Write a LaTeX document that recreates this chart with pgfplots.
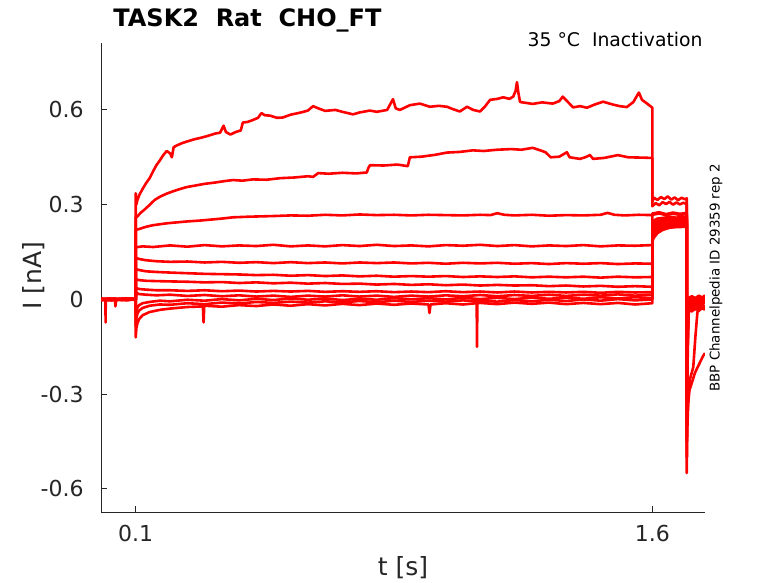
\documentclass[border=0pt]{standalone}
\usepackage{fontspec}
\setmainfont{DejaVu Sans}
\usepackage{pgfplots}
\pgfplotsset{compat=1.18}
\definecolor{axcol}{RGB}{38,38,38}
\definecolor{txtcol}{RGB}{38,38,38}
\definecolor{tr}{RGB}{255,0,0}
\tikzset{trace/.style={draw=tr, line width=1.3pt, line join=round, mark=none}}
\begin{document}
\begin{tikzpicture}
\begin{axis}[
 at={(0,0)}, anchor=south west,
 scale only axis, width=301.85pt, height=234.65pt,
 xmin=0, xmax=1.753, ymin=-0.674, ymax=0.812,
 axis x line*=bottom, axis y line*=left,
 axis line style={draw=axcol, line width=0.5pt, -},
 xtick={0.1,1.6}, ytick={-0.6,-0.3,0,0.3,0.6},
 xticklabels={0.1,1.6}, yticklabels={-0.6,-0.3,0,0.3,0.6},
 tick align=inside, major tick length=3pt,
 tick style={draw=axcol, line width=0.5pt},
 ticklabel style={font=\fontsize{11}{13}\selectfont, text=txtcol},
 yticklabel style={inner sep=0pt, anchor=east, xshift=-8.65pt},
 xticklabel style={inner sep=0pt, anchor=north, yshift=-6pt},
]
% T1
\addplot[trace] coordinates {(0,0.001)(0.02,-0.003)(0.04,0.003)(0.06,-0.002)(0.08,0.003)(0.1,0.0)
(0.1,0.336)(0.1015,0.30)(0.105,0.315)(0.11,0.33)(0.12,0.35)(0.13,0.368)(0.141,0.385)(0.15,0.405)(0.16,0.425)(0.17,0.44)(0.18,0.457)(0.19,0.47)(0.2,0.462)(0.205,0.45)(0.21,0.482)(0.22,0.488)(0.235,0.495)(0.249,0.50)(0.27,0.507)(0.29,0.512)(0.31,0.518)(0.33,0.525)(0.345,0.528)(0.355,0.55)(0.362,0.53)(0.375,0.522)(0.39,0.53)(0.405,0.535)(0.411,0.56)(0.425,0.562)(0.44,0.568)(0.455,0.575)(0.465,0.59)(0.475,0.583)(0.49,0.582)(0.51,0.575)(0.527,0.576)(0.55,0.585)(0.58,0.592)(0.6,0.598)(0.615,0.612)(0.63,0.605)(0.65,0.597)(0.68,0.6)(0.7,0.594)(0.731,0.586)(0.75,0.592)(0.78,0.598)(0.8,0.594)(0.83,0.6)(0.847,0.634)(0.855,0.605)(0.867,0.6)(0.896,0.615)(0.925,0.62)(0.954,0.61)(0.98,0.613)(1.004,0.61)(1.02,0.603)(1.041,0.595)(1.062,0.61)(1.08,0.6)(1.1,0.595)(1.115,0.612)(1.129,0.632)(1.15,0.635)(1.167,0.64)(1.185,0.635)(1.196,0.642)(1.203,0.66)(1.207,0.688)(1.211,0.655)(1.216,0.625)(1.235,0.622)(1.253,0.619)(1.28,0.624)(1.311,0.62)(1.33,0.628)(1.34,0.642)(1.355,0.625)(1.37,0.608)(1.39,0.612)(1.41,0.607)(1.435,0.618)(1.457,0.626)(1.486,0.617)(1.505,0.612)(1.526,0.609)(1.545,0.625)(1.561,0.655)(1.57,0.632)(1.585,0.62)(1.6,0.607)
(1.6,0.31)(1.605,0.322)(1.615,0.315)(1.625,0.324)(1.635,0.318)(1.645,0.326)(1.655,0.316)(1.665,0.323)(1.675,0.314)(1.685,0.322)(1.695,0.317)(1.7,0.32)
(1.7,-0.55)(1.7015,-0.42)(1.705,-0.3)(1.71,-0.25)(1.719,-0.214)(1.725,-0.12)(1.731,-0.04)(1.74,-0.03)(1.753,-0.028)};
% T2
\addplot[trace] coordinates {(0,-0.002)(0.025,0.003)(0.05,-0.001)(0.075,0.002)(0.1,-0.001)
(0.1,0.26)(0.104,0.262)(0.115,0.275)(0.124,0.283)(0.141,0.30)(0.155,0.315)(0.17,0.325)(0.19,0.335)(0.21,0.343)(0.23,0.35)(0.249,0.356)(0.27,0.36)(0.3,0.366)(0.33,0.37)(0.36,0.375)(0.383,0.378)(0.41,0.376)(0.44,0.38)(0.48,0.379)(0.52,0.384)(0.56,0.386)(0.6,0.39)(0.615,0.388)(0.63,0.4)(0.66,0.398)(0.7,0.401)(0.74,0.399)(0.771,0.402)(0.775,0.415)(0.78,0.425)(0.82,0.424)(0.86,0.427)(0.89,0.422)(0.896,0.45)(0.93,0.452)(0.97,0.458)(1.004,0.465)(1.04,0.467)(1.079,0.472)(1.11,0.47)(1.15,0.474)(1.19,0.476)(1.22,0.474)(1.253,0.48)(1.275,0.472)(1.29,0.466)(1.305,0.45)(1.33,0.452)(1.352,0.466)(1.36,0.45)(1.39,0.445)(1.405,0.45)(1.419,0.457)(1.428,0.445)(1.46,0.448)(1.5,0.457)(1.53,0.45)(1.57,0.449)(1.6,0.448)
(1.6,0.295)(1.61,0.305)(1.62,0.298)(1.63,0.308)(1.64,0.302)(1.65,0.309)(1.66,0.3)(1.67,0.307)(1.68,0.301)(1.69,0.306)(1.7,0.302)
(1.7,-0.5)(1.7015,-0.38)(1.704,-0.33)(1.708,-0.287)(1.716,-0.26)(1.724,-0.232)(1.739,-0.198)(1.747,-0.18)(1.753,-0.17)};
% T3
\addplot[trace] coordinates {(0,0.002)(0.03,-0.002)(0.065,0.003)(0.1,0.0)
(0.1,0.22)(0.11,0.223)(0.13,0.23)(0.15,0.235)(0.19,0.241)(0.25,0.247)(0.29,0.25)(0.35,0.256)(0.383,0.26)(0.43,0.262)(0.5,0.264)(0.55,0.266)(0.6,0.265)(0.65,0.268)(0.7,0.266)(0.75,0.269)(0.8,0.267)(0.85,0.268)(0.9,0.266)(0.95,0.268)(1.0,0.267)(1.05,0.266)(1.1,0.268)(1.13,0.267)(1.15,0.273)(1.17,0.268)(1.2,0.266)(1.25,0.268)(1.3,0.265)(1.35,0.267)(1.4,0.266)(1.45,0.268)(1.47,0.274)(1.49,0.268)(1.52,0.266)(1.56,0.268)(1.6,0.267)
(1.6,0.272)(1.62,0.276)(1.64,0.27)(1.66,0.275)(1.68,0.271)(1.7,0.274)
(1.7,-0.45)(1.702,-0.25)(1.704,-0.08)(1.707,-0.02)(1.715,0.008)(1.725,0.0)(1.735,0.01)(1.745,0.004)(1.753,0.012)};
% T4
\addplot[trace] coordinates {(0,0.002)(0.03,-0.002)(0.06,0.003)(0.1,0.0)
(0.1,0.165)(0.12,0.168)(0.15,0.166)(0.2,0.171)(0.25,0.167)(0.3,0.172)(0.35,0.168)(0.4,0.171)(0.45,0.169)(0.5,0.173)(0.55,0.168)(0.6,0.171)(0.65,0.168)(0.7,0.172)(0.75,0.169)(0.8,0.173)(0.85,0.169)(0.9,0.171)(0.95,0.168)(1.0,0.172)(1.05,0.17)(1.1,0.173)(1.15,0.169)(1.2,0.172)(1.25,0.168)(1.3,0.171)(1.35,0.169)(1.4,0.172)(1.45,0.168)(1.5,0.171)(1.55,0.17)(1.6,0.172)
(1.6,0.268)(1.62,0.272)(1.64,0.267)(1.66,0.271)(1.68,0.268)(1.7,0.27)
(1.7,-0.4)(1.702,-0.2)(1.704,-0.06)(1.707,-0.01)(1.715,0.003)(1.725,-0.008)(1.735,0.004)(1.745,-0.004)(1.753,0.006)};
% T5
\addplot[trace] coordinates {(0,-0.001)(0.035,0.002)(0.07,-0.002)(0.1,0.001)
(0.1,0.132)(0.11,0.128)(0.13,0.124)(0.16,0.121)(0.2,0.119)(0.25,0.12)(0.3,0.117)(0.35,0.119)(0.4,0.116)(0.45,0.118)(0.5,0.115)(0.55,0.118)(0.6,0.115)(0.65,0.117)(0.7,0.114)(0.75,0.117)(0.8,0.115)(0.85,0.117)(0.9,0.114)(0.95,0.116)(1.0,0.113)(1.05,0.116)(1.1,0.114)(1.15,0.116)(1.2,0.113)(1.25,0.115)(1.3,0.112)(1.35,0.115)(1.4,0.113)(1.45,0.115)(1.5,0.112)(1.55,0.114)(1.6,0.113)
(1.6,0.24)(1.605,0.25)(1.615,0.256)(1.63,0.258)(1.65,0.261)(1.67,0.259)(1.7,0.262)
(1.7,-0.35)(1.702,-0.2)(1.704,-0.06)(1.707,-0.012)(1.715,0.0)(1.725,-0.006)(1.735,0.005)(1.745,-0.002)(1.753,0.006)};
% T6
\addplot[trace] coordinates {(0,0.002)(0.04,-0.001)(0.08,0.002)(0.1,0.0)
(0.1,0.096)(0.11,0.093)(0.13,0.089)(0.16,0.087)(0.2,0.085)(0.25,0.083)(0.3,0.081)(0.35,0.08)(0.4,0.079)(0.45,0.077)(0.5,0.078)(0.55,0.075)(0.6,0.077)(0.65,0.074)(0.7,0.076)(0.75,0.073)(0.8,0.075)(0.85,0.072)(0.9,0.074)(0.95,0.072)(1.0,0.074)(1.05,0.071)(1.1,0.073)(1.15,0.071)(1.2,0.073)(1.25,0.07)(1.3,0.072)(1.35,0.07)(1.4,0.072)(1.45,0.069)(1.5,0.072)(1.55,0.07)(1.6,0.071)
(1.6,0.23)(1.605,0.24)(1.615,0.248)(1.63,0.252)(1.65,0.256)(1.67,0.255)(1.7,0.258)
(1.7,-0.32)(1.702,-0.18)(1.704,-0.07)(1.707,-0.02)(1.715,-0.008)(1.725,-0.015)(1.735,-0.004)(1.745,-0.012)(1.753,-0.003)};
% T7
\addplot[trace] coordinates {(0,-0.002)(0.03,0.002)(0.06,-0.001)(0.1,0.001)
(0.1,0.064)(0.11,0.061)(0.13,0.059)(0.16,0.058)(0.2,0.057)(0.25,0.056)(0.3,0.054)(0.35,0.055)(0.4,0.052)(0.45,0.054)(0.5,0.051)(0.55,0.053)(0.6,0.05)(0.65,0.052)(0.7,0.049)(0.75,0.05)(0.8,0.047)(0.85,0.049)(0.9,0.046)(0.95,0.048)(1.0,0.045)(1.05,0.047)(1.1,0.044)(1.15,0.046)(1.2,0.044)(1.25,0.045)(1.3,0.042)(1.35,0.044)(1.4,0.041)(1.45,0.043)(1.5,0.04)(1.55,0.042)(1.6,0.04)
(1.6,0.22)(1.605,0.232)(1.615,0.242)(1.63,0.247)(1.65,0.251)(1.67,0.252)(1.7,0.254)
(1.7,-0.3)(1.702,-0.17)(1.704,-0.05)(1.707,-0.015)(1.715,-0.02)(1.725,-0.01)(1.735,-0.018)(1.745,-0.006)(1.753,-0.014)};
% T8
\addplot[trace] coordinates {(0,0.003)(0.045,-0.002)(0.08,0.002)(0.1,-0.001)
(0.1,0.036)(0.11,0.033)(0.13,0.031)(0.16,0.029)(0.2,0.029)(0.25,0.027)(0.3,0.029)(0.35,0.026)(0.4,0.028)(0.45,0.025)(0.5,0.027)(0.55,0.025)(0.6,0.027)(0.65,0.024)(0.7,0.026)(0.75,0.024)(0.8,0.026)(0.85,0.023)(0.9,0.025)(0.95,0.023)(1.0,0.026)(1.05,0.023)(1.1,0.025)(1.15,0.022)(1.2,0.025)(1.25,0.022)(1.3,0.024)(1.35,0.022)(1.4,0.024)(1.45,0.021)(1.5,0.024)(1.55,0.022)(1.6,0.023)
(1.6,0.21)(1.605,0.222)(1.615,0.234)(1.63,0.241)(1.65,0.246)(1.67,0.248)(1.7,0.25)
(1.7,-0.28)(1.702,-0.15)(1.704,-0.05)(1.707,-0.03)(1.715,-0.025)(1.725,-0.032)(1.735,-0.022)(1.745,-0.03)(1.753,-0.02)};
% T9
\addplot[trace] coordinates {(0,-0.001)(0.02,0.003)(0.055,-0.002)(0.1,0.002)
(0.1,0.005)(0.103,0.02)(0.11,0.017)(0.13,0.015)(0.16,0.013)(0.2,0.015)(0.25,0.011)(0.3,0.014)(0.35,0.01)(0.4,0.013)(0.45,0.009)(0.5,0.012)(0.55,0.008)(0.6,0.012)(0.65,0.009)(0.7,0.013)(0.75,0.009)(0.8,0.012)(0.85,0.008)(0.9,0.012)(0.95,0.009)(1.0,0.013)(1.05,0.01)(1.1,0.014)(1.15,0.01)(1.2,0.014)(1.25,0.011)(1.3,0.015)(1.35,0.011)(1.4,0.015)(1.45,0.012)(1.5,0.016)(1.55,0.012)(1.6,0.015)
(1.6,0.2)(1.605,0.212)(1.615,0.226)(1.63,0.235)(1.65,0.241)(1.67,0.243)(1.7,0.245)
(1.7,-0.26)(1.702,-0.14)(1.704,-0.04)(1.707,-0.035)(1.715,-0.038)(1.725,-0.028)(1.735,-0.036)(1.745,-0.026)(1.753,-0.033)};
% T10
\addplot[trace] coordinates {(0,0.001)(0.03,-0.003)(0.07,0.002)(0.1,-0.002)
(0.1,-0.05)(0.102,-0.035)(0.105,-0.025)(0.11,-0.018)(0.12,-0.012)(0.14,-0.008)(0.17,-0.004)(0.2,-0.006)(0.25,-0.001)(0.3,-0.004)(0.35,0.001)(0.4,-0.003)(0.45,0.002)(0.5,-0.002)(0.55,0.003)(0.6,-0.001)(0.65,0.003)(0.7,-0.002)(0.75,0.002)(0.8,-0.001)(0.85,0.004)(0.9,0.0)(0.95,0.004)(1.0,0.0)(1.05,0.005)(1.1,0.001)(1.15,0.005)(1.2,0.001)(1.25,0.006)(1.3,0.002)(1.35,0.006)(1.4,0.002)(1.45,0.007)(1.5,0.003)(1.55,0.007)(1.6,0.004)
(1.6,0.195)(1.605,0.205)(1.615,0.22)(1.63,0.23)(1.65,0.236)(1.67,0.238)(1.7,0.24)
(1.7,-0.25)(1.702,-0.13)(1.704,-0.03)(1.707,0.0)(1.715,-0.012)(1.725,0.002)(1.735,-0.01)(1.745,0.004)(1.753,-0.006)};
% T11
\addplot[trace] coordinates {(0,-0.002)(0.04,0.002)(0.075,-0.003)(0.1,0.001)
(0.1,-0.085)(0.102,-0.06)(0.105,-0.045)(0.11,-0.035)(0.12,-0.027)(0.14,-0.02)(0.17,-0.016)(0.2,-0.017)(0.25,-0.012)(0.3,-0.015)(0.35,-0.01)(0.4,-0.013)(0.45,-0.008)(0.5,-0.011)(0.55,-0.007)(0.6,-0.01)(0.65,-0.006)(0.7,-0.009)(0.75,-0.005)(0.8,-0.009)(0.85,-0.004)(0.9,-0.008)(0.95,-0.004)(1.0,-0.007)(1.05,-0.003)(1.09,-0.006)(1.091,-0.15)(1.092,-0.005)(1.1,-0.004)(1.15,-0.007)(1.2,-0.002)(1.25,-0.006)(1.3,-0.001)(1.35,-0.005)(1.4,0.0)(1.45,-0.004)(1.5,0.001)(1.55,-0.003)(1.6,0.0)
(1.6,0.19)(1.605,0.2)(1.615,0.215)(1.63,0.225)(1.65,0.231)(1.67,0.233)(1.7,0.235)
(1.7,-0.25)(1.702,-0.12)(1.704,-0.03)(1.707,0.006)(1.715,0.01)(1.725,0.004)(1.735,0.012)(1.745,0.006)(1.753,0.013)};
% T12
\addplot[trace] coordinates {(0,0.001)(0.005,-0.003)(0.012,0.002)(0.0125,-0.073)(0.013,0.0)(0.02,0.003)(0.03,-0.002)(0.04,0.001)(0.041,-0.022)(0.043,-0.004)(0.05,0.003)(0.06,-0.002)(0.07,0.004)(0.08,-0.001)(0.09,0.003)(0.1,0.0)
(0.1,-0.12)(0.102,-0.09)(0.105,-0.075)(0.11,-0.062)(0.12,-0.05)(0.14,-0.04)(0.17,-0.033)(0.2,-0.029)(0.25,-0.024)(0.295,-0.022)(0.297,-0.073)(0.299,-0.02)(0.35,-0.023)(0.4,-0.018)(0.45,-0.021)(0.5,-0.016)(0.55,-0.02)(0.6,-0.015)(0.65,-0.019)(0.7,-0.014)(0.75,-0.018)(0.8,-0.013)(0.85,-0.017)(0.9,-0.013)(0.95,-0.016)(0.953,-0.043)(0.956,-0.016)(1.0,-0.012)(1.05,-0.016)(1.1,-0.011)(1.15,-0.015)(1.2,-0.01)(1.25,-0.014)(1.3,-0.01)(1.35,-0.015)(1.4,-0.011)(1.45,-0.015)(1.5,-0.011)(1.55,-0.016)(1.6,-0.012)
(1.6,0.185)(1.605,0.196)(1.615,0.21)(1.63,0.22)(1.65,0.227)(1.67,0.229)(1.7,0.23)
(1.7,-0.25)(1.702,-0.12)(1.704,-0.04)(1.707,-0.02)(1.715,-0.03)(1.725,-0.018)(1.735,-0.028)(1.745,-0.016)(1.753,-0.025)};
\end{axis}
\node[anchor=base west, inner sep=0pt, font=\bfseries\fontsize{12}{14}\selectfont] at (5.85pt,242.65pt) {TASK2\ \ Rat\ \ CHO\_FT};
\node[anchor=base east, inner sep=0pt, font=\fontsize{9.4}{11}\selectfont] at (300.85pt,232.65pt) {35 °C\ \ Inactivation};
\node[rotate=90, inner sep=0pt, font=\fontsize{6.7}{8}\selectfont] at (307.35pt,117.15pt) {BBP Channelpedia ID 29359 rep 2};
\node[anchor=base, inner sep=0pt, font=\fontsize{12.5}{15}\selectfont, text=txtcol] at (150.85pt,-31.85pt) {t [s]};
\node[rotate=90, anchor=base, inner sep=0pt, font=\fontsize{12.5}{15}\selectfont, text=txtcol] at (-29.65pt,118.15pt) {I [nA]};
\pgfresetboundingbox
\useasboundingbox (-50.65pt,-35.35pt) rectangle (338.35pt,256.15pt);
\end{tikzpicture}
\end{document}
